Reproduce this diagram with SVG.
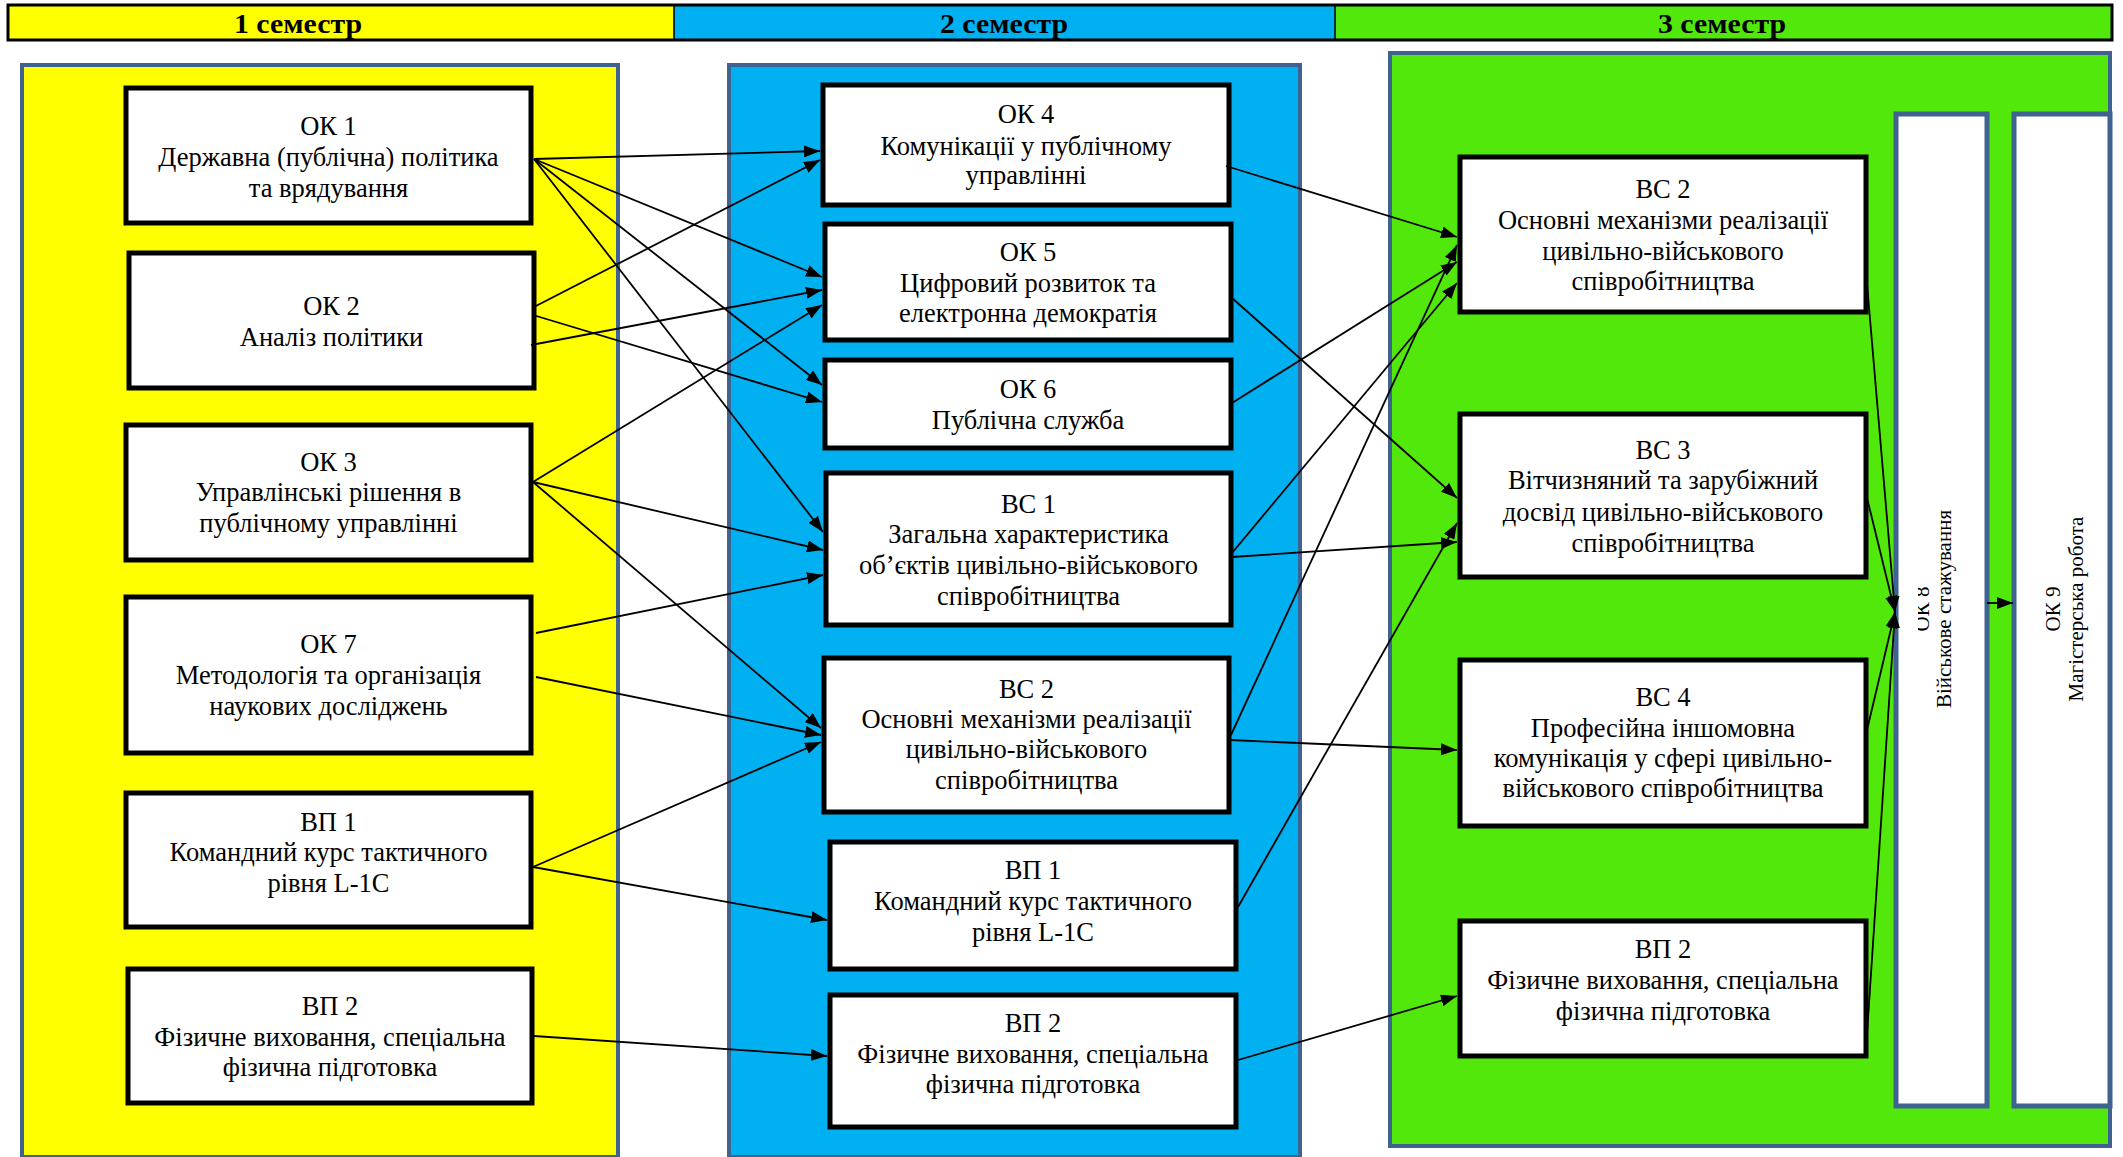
<svg xmlns="http://www.w3.org/2000/svg" width="2123" height="1157" viewBox="0 0 2123 1157">
<style>
.panel{stroke:#3E6391;stroke-width:4}
.box{fill:#fff;stroke:#000;stroke-width:5}
.vbox{fill:#fff;stroke:#3E6391;stroke-width:5}
.t{font-family:"Liberation Serif","Times New Roman",serif;font-size:26.5px;text-anchor:middle;fill:#000}
.vt{font-family:"Liberation Serif","Times New Roman",serif;font-size:21px;text-anchor:middle;fill:#000}
.h{font-family:"Liberation Serif","Times New Roman",serif;font-size:27px;font-weight:bold;text-anchor:middle;fill:#000}
.conn line{stroke:#000;stroke-width:1.8;marker-end:url(#arr)}
</style>
<defs>
<marker id="arr" markerUnits="userSpaceOnUse" markerWidth="16" markerHeight="12" refX="16" refY="6" orient="auto">
<path d="M0,0 L16,6 L0,12 z" fill="#000"/>
</marker>
<clipPath id="ok8clip"><rect x="1918" y="114" width="70" height="992"/></clipPath>
</defs>
<rect width="2123" height="1157" fill="#fff"/>

<g id="header">
<rect x="8" y="5" width="666" height="35" fill="#FFFF00"/>
<rect x="674" y="5" width="661" height="35" fill="#00B0F0"/>
<rect x="1335" y="5" width="777" height="35" fill="#53E80C"/>
<rect x="8" y="5" width="2104" height="35" fill="none" stroke="#000" stroke-width="3"/>
<line x1="674" y1="5" x2="674" y2="40" stroke="#000" stroke-width="1.5"/>
<line x1="1335" y1="5" x2="1335" y2="40" stroke="#000" stroke-width="1.5"/>
<text class="h" x="298" y="33" textLength="128" lengthAdjust="spacingAndGlyphs">1 семестр</text>
<text class="h" x="1004" y="33" textLength="128" lengthAdjust="spacingAndGlyphs">2 семестр</text>
<text class="h" x="1722" y="33" textLength="128" lengthAdjust="spacingAndGlyphs">3 семестр</text>
</g>

<g id="panels">
<rect class="panel" x="22" y="65" width="596" height="1092" fill="#FFFF00"/>
<rect class="panel" x="729" y="65" width="571" height="1092" fill="#00B0F0"/>
<rect class="panel" x="1390" y="53" width="720" height="1093" fill="#53E80C"/>
</g>

<g id="n-ok1"><rect class="box" x="126" y="88" width="405" height="135"/>
<text class="t"><tspan x="328.5" y="135">ОК 1</tspan><tspan x="328.5" y="166">Державна (публічна) політика</tspan><tspan x="328.5" y="197">та врядування</tspan></text></g>
<g id="n-ok2"><rect class="box" x="129" y="253" width="405" height="135"/>
<text class="t"><tspan x="331.5" y="315">ОК 2</tspan><tspan x="331.5" y="346">Аналіз політики</tspan></text></g>
<g id="n-ok3"><rect class="box" x="126" y="425" width="405" height="135"/>
<text class="t"><tspan x="328.5" y="471">ОК 3</tspan><tspan x="328.5" y="501">Управлінські рішення в</tspan><tspan x="328.5" y="532">публічному управлінні</tspan></text></g>
<g id="n-ok7"><rect class="box" x="126" y="597" width="405" height="156"/>
<text class="t"><tspan x="328.5" y="653">ОК 7</tspan><tspan x="328.5" y="684">Методологія та організація</tspan><tspan x="328.5" y="715">наукових досліджень</tspan></text></g>
<g id="n-vp1-s1"><rect class="box" x="126" y="793" width="405" height="134"/>
<text class="t"><tspan x="328.5" y="831">ВП 1</tspan><tspan x="328.5" y="861">Командний курс тактичного</tspan><tspan x="328.5" y="892">рівня L-1C</tspan></text></g>
<g id="n-vp2-s1"><rect class="box" x="128" y="969" width="404" height="134"/>
<text class="t"><tspan x="330" y="1015">ВП 2</tspan><tspan x="330" y="1046">Фізичне виховання, спеціальна</tspan><tspan x="330" y="1076">фізична підготовка</tspan></text></g>

<g id="n-ok4"><rect class="box" x="823" y="85" width="406" height="120"/>
<text class="t"><tspan x="1026" y="123">ОК 4</tspan><tspan x="1026" y="155">Комунікації у публічному</tspan><tspan x="1026" y="184">управлінні</tspan></text></g>
<g id="n-ok5"><rect class="box" x="825" y="224" width="406" height="116"/>
<text class="t"><tspan x="1028" y="261">ОК 5</tspan><tspan x="1028" y="292">Цифровий розвиток та</tspan><tspan x="1028" y="322">електронна демократія</tspan></text></g>
<g id="n-ok6"><rect class="box" x="825" y="360" width="406" height="88"/>
<text class="t"><tspan x="1028" y="398">ОК 6</tspan><tspan x="1028" y="429">Публічна служба</tspan></text></g>
<g id="n-vs1-s2"><rect class="box" x="826" y="473" width="405" height="152"/>
<text class="t"><tspan x="1028.5" y="513">ВС 1</tspan><tspan x="1028.5" y="543">Загальна характеристика</tspan><tspan x="1028.5" y="574">об’єктів цивільно-військового</tspan><tspan x="1028.5" y="605">співробітництва</tspan></text></g>
<g id="n-vs2-s2"><rect class="box" x="824" y="658" width="405" height="154"/>
<text class="t"><tspan x="1026.5" y="698">ВС 2</tspan><tspan x="1026.5" y="728">Основні механізми реалізації</tspan><tspan x="1026.5" y="758">цивільно-військового</tspan><tspan x="1026.5" y="789">співробітництва</tspan></text></g>
<g id="n-vp1-s2"><rect class="box" x="830" y="842" width="406" height="127"/>
<text class="t"><tspan x="1033" y="879">ВП 1</tspan><tspan x="1033" y="910">Командний курс тактичного</tspan><tspan x="1033" y="941">рівня L-1C</tspan></text></g>
<g id="n-vp2-s2"><rect class="box" x="830" y="995" width="406" height="132"/>
<text class="t"><tspan x="1033" y="1032">ВП 2</tspan><tspan x="1033" y="1063">Фізичне виховання, спеціальна</tspan><tspan x="1033" y="1093">фізична підготовка</tspan></text></g>

<g id="n-vs2-s3"><rect class="box" x="1460" y="157" width="406" height="155"/>
<text class="t"><tspan x="1663" y="198">ВС 2</tspan><tspan x="1663" y="229">Основні механізми реалізації</tspan><tspan x="1663" y="260">цивільно-військового</tspan><tspan x="1663" y="290">співробітництва</tspan></text></g>
<g id="n-vs3-s3"><rect class="box" x="1460" y="414" width="406" height="163"/>
<text class="t"><tspan x="1663" y="459">ВС 3</tspan><tspan x="1663" y="489">Вітчизняний та зарубіжний</tspan><tspan x="1663" y="521">досвід цивільно-військового</tspan><tspan x="1663" y="552">співробітництва</tspan></text></g>
<g id="n-vs4-s3"><rect class="box" x="1460" y="660" width="406" height="166"/>
<text class="t"><tspan x="1663" y="706">ВС 4</tspan><tspan x="1663" y="737">Професійна іншомовна</tspan><tspan x="1663" y="767">комунікація у сфері цивільно-</tspan><tspan x="1663" y="797">військового співробітництва</tspan></text></g>
<g id="n-vp2-s3"><rect class="box" x="1460" y="921" width="406" height="135"/>
<text class="t"><tspan x="1663" y="958">ВП 2</tspan><tspan x="1663" y="989">Фізичне виховання, спеціальна</tspan><tspan x="1663" y="1020">фізична підготовка</tspan></text></g>
<g id="n-ok8"><rect class="vbox" x="1896" y="114" width="91" height="992"/>
<g clip-path="url(#ok8clip)"><text class="vt" transform="translate(1929,609) rotate(-90)"><tspan x="0" y="0">ОК 8</tspan></text></g>
<text class="vt" transform="translate(1951,609) rotate(-90)"><tspan x="0" y="0">Військове стажування</tspan></text></g>
<g id="n-ok9"><rect class="vbox" x="2014" y="114" width="96" height="992"/>
<text class="vt" transform="translate(2060,609) rotate(-90)"><tspan x="0" y="0">ОК 9</tspan><tspan x="0" y="23">Магістерська робота</tspan></text></g>

<g id="connectors" class="conn">
<line x1="534" y1="159" x2="820" y2="151"/>
<line x1="534" y1="159" x2="822" y2="277"/>
<line x1="534" y1="159" x2="822" y2="385"/>
<line x1="534" y1="159" x2="823" y2="532"/>
<line x1="532" y1="308" x2="820" y2="160"/>
<line x1="531" y1="345" x2="822" y2="290"/>
<line x1="533" y1="315" x2="822" y2="402"/>
<line x1="533" y1="482" x2="822" y2="305"/>
<line x1="533" y1="482" x2="823" y2="550"/>
<line x1="533" y1="482" x2="821" y2="728"/>
<line x1="536" y1="633" x2="823" y2="575"/>
<line x1="536" y1="677" x2="821" y2="735"/>
<line x1="533" y1="867" x2="821" y2="742"/>
<line x1="533" y1="867" x2="827" y2="920"/>
<line x1="534" y1="1036" x2="827" y2="1056"/>
<line x1="1226" y1="166" x2="1457" y2="237"/>
<line x1="1231" y1="735" x2="1457" y2="245"/>
<line x1="1232" y1="403" x2="1457" y2="262"/>
<line x1="1232" y1="553" x2="1457" y2="283"/>
<line x1="1232" y1="298" x2="1457" y2="498"/>
<line x1="1238" y1="907" x2="1457" y2="523"/>
<line x1="1232" y1="557" x2="1457" y2="542"/>
<line x1="1230" y1="740" x2="1457" y2="750"/>
<line x1="1238" y1="1060" x2="1457" y2="996"/>
<line x1="1866" y1="272" x2="1895" y2="612"/>
<line x1="1867" y1="498" x2="1895" y2="612"/>
<line x1="1867" y1="730" x2="1895" y2="612"/>
<line x1="1867" y1="1034" x2="1895" y2="612"/>
<line x1="1987" y1="603" x2="2013" y2="603"/>
</g>
</svg>
